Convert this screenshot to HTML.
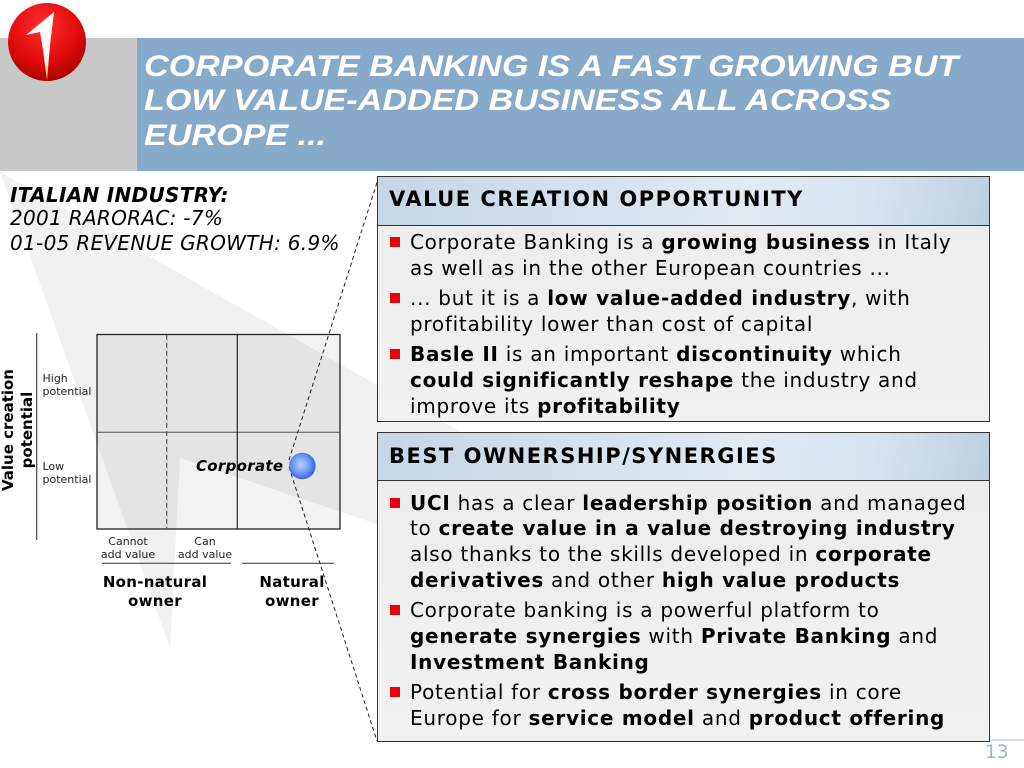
<!DOCTYPE html>
<html>
<head>
<meta charset="utf-8">
<style>
  html,body{margin:0;padding:0;}
  body{width:1024px;height:768px;position:relative;overflow:hidden;background:#fff;font-family:"DejaVu Sans","Liberation Sans",sans-serif;}
  .abs{position:absolute;}
  svg.bg{position:absolute;left:0;top:0;}
  .title{position:absolute;left:144px;top:49.8px;font-family:"Liberation Sans",sans-serif;font-weight:bold;font-style:italic;font-size:30px;line-height:34.4px;color:#fff;white-space:nowrap;transform:scaleX(1.138);transform-origin:0 0;}
  .ital{position:absolute;left:10px;font-style:italic;font-size:20px;line-height:24px;letter-spacing:0.3px;white-space:nowrap;color:#000;}
  .box{position:absolute;left:377px;width:613px;border:1px solid #333;background:linear-gradient(to bottom,#ececec,#f1f1f1);box-sizing:border-box;}
  .hdr{position:absolute;left:0;top:0;right:0;border-bottom:1px solid #333;background:linear-gradient(100deg,#c6d6e5 0%,#d3e0eb 30%,#e2eaf2 60%,#d9e4ee 80%,#bccfe1 100%);}
  .hdr span{position:absolute;left:11px;font-weight:bold;font-size:21px;line-height:21px;letter-spacing:1.5px;white-space:nowrap;color:#000;}
  .ln{position:absolute;left:410px;font-size:20px;line-height:26px;letter-spacing:0.72px;white-space:nowrap;color:#000;}
  .ln b{font-weight:bold;}
  .bul{position:absolute;left:390px;width:10px;height:10px;background:#e8000f;}
  .sm{position:absolute;font-size:11px;line-height:13px;color:#222;white-space:nowrap;}
  .own{position:absolute;font-weight:bold;font-size:15px;line-height:19px;letter-spacing:0.3px;text-align:center;white-space:nowrap;color:#000;}
</style>
</head>
<body>
<svg class="bg" width="1024" height="768" viewBox="0 0 1024 768" xmlns="http://www.w3.org/2000/svg">
  <defs>
    <radialGradient id="logoG" cx="0.45" cy="0.3" r="0.75">
      <stop offset="0" stop-color="#ff3030"/>
      <stop offset="0.6" stop-color="#e00a0a"/>
      <stop offset="1" stop-color="#a00000"/>
    </radialGradient>
    <linearGradient id="oneG" x1="0" y1="0" x2="0" y2="1">
      <stop offset="0" stop-color="#ffffff"/>
      <stop offset="0.7" stop-color="#fff4ee"/>
      <stop offset="1" stop-color="#f0a040"/>
    </linearGradient>
    <radialGradient id="ballG" cx="0.45" cy="0.45" r="0.6">
      <stop offset="0" stop-color="#b8d2ff"/>
      <stop offset="0.55" stop-color="#6e98f5"/>
      <stop offset="1" stop-color="#2a56e0"/>
    </radialGradient>
  </defs>
  <!-- watermark -->
  <polygon points="0,172 985,728 180,458 170,648" fill="#f1f1f1"/>
  <!-- bands -->
  <rect x="0" y="38" width="137" height="133" fill="#c8c8c8"/>
  <rect x="137" y="38" width="887" height="133" fill="#87aaca"/>
  <!-- logo -->
  <circle cx="47" cy="42" r="39" fill="url(#logoG)"/>
  <polygon points="54,12 50,45 47,81 43,50 40,32 26,35" fill="url(#oneG)"/>
  <!-- chart -->
  <rect x="97" y="334.5" width="243" height="194.5" fill="rgba(0,0,0,0.05)" stroke="#222" stroke-width="1.3"/>
  <line x1="97" y1="432.3" x2="340" y2="432.3" stroke="#555" stroke-width="1"/>
  <line x1="166.7" y1="335" x2="166.7" y2="529" stroke="#555" stroke-width="1.2" stroke-dasharray="5,3"/>
  <line x1="237.3" y1="335" x2="237.3" y2="529" stroke="#222" stroke-width="1.2"/>
  <line x1="36.7" y1="333" x2="36.7" y2="540" stroke="#444" stroke-width="1.2"/>
  <line x1="102" y1="563.3" x2="231" y2="563.3" stroke="#333" stroke-width="1"/>
  <line x1="242" y1="563.3" x2="334" y2="563.3" stroke="#333" stroke-width="1"/>
  <!-- dashed connectors -->
  <line x1="379" y1="176" x2="288" y2="463" stroke="#222" stroke-width="1" stroke-dasharray="4,3"/>
  <line x1="289" y1="467" x2="377" y2="741" stroke="#222" stroke-width="1" stroke-dasharray="4,3"/>
  <!-- ball -->
  <circle cx="302.3" cy="466" r="13.3" fill="url(#ballG)"/>
  <!-- page number line -->
  <line x1="977" y1="740" x2="1024" y2="740" stroke="#a9bccc" stroke-width="1"/>
</svg>

<div class="title">CORPORATE BANKING IS A FAST GROWING BUT<br>LOW VALUE-ADDED BUSINESS ALL ACROSS<br>EUROPE ...</div>

<div class="ital" style="top:182.7px;font-weight:bold;">ITALIAN INDUSTRY:</div>
<div class="ital" style="top:206.3px;">2001 RARORAC: -7%</div>
<div class="ital" style="top:230.5px;">01-05 REVENUE GROWTH: 6.9%</div>

<!-- Y axis label -->
<div class="abs" style="left:-52px;top:411px;width:140px;height:38px;transform:rotate(-90deg);text-align:center;font-weight:bold;font-size:15px;line-height:19px;color:#000;white-space:nowrap;">Value creation<br>potential</div>

<div class="sm" style="left:42.5px;top:371.5px;">High<br>potential</div>
<div class="sm" style="left:42.5px;top:459.5px;">Low<br>potential</div>

<div class="sm" style="left:88px;width:80px;text-align:center;top:535px;">Cannot<br>add value</div>
<div class="sm" style="left:165px;width:80px;text-align:center;top:535px;">Can<br>add value</div>

<div class="own" style="left:95px;width:120px;top:572.5px;">Non-natural<br>owner</div>
<div class="own" style="left:232px;width:120px;top:572.5px;">Natural<br>owner</div>

<div class="abs" style="left:196px;top:457px;font-weight:bold;font-style:italic;font-size:15px;line-height:19px;letter-spacing:0.3px;white-space:nowrap;color:#000;">Corporate</div>

<!-- Box 1 -->
<div class="box" style="top:176px;height:246px;">
  <div class="hdr" style="height:48px;"><span style="top:12px;">VALUE CREATION OPPORTUNITY</span></div>
</div>
<div class="bul" style="top:237px;"></div>
<div class="ln" style="top:229px;">Corporate Banking is a <b>growing business</b> in Italy</div>
<div class="ln" style="top:255px;">as well as in the other European countries ...</div>
<div class="bul" style="top:293px;"></div>
<div class="ln" style="top:285px;">... but it is a <b>low value-added industry</b>, with</div>
<div class="ln" style="top:311px;">profitability lower than cost of capital</div>
<div class="bul" style="top:349px;"></div>
<div class="ln" style="top:341px;"><b>Basle II</b> is an important <b>discontinuity</b> which</div>
<div class="ln" style="top:367px;"><b>could significantly reshape</b> the industry and</div>
<div class="ln" style="top:393px;">improve its <b>profitability</b></div>

<!-- Box 2 -->
<div class="box" style="top:432px;height:310px;">
  <div class="hdr" style="height:47px;"><span style="top:12.5px;">BEST OWNERSHIP/SYNERGIES</span></div>
</div>
<div class="bul" style="top:498px;"></div>
<div class="ln" style="top:490px;"><b>UCI</b> has a clear <b>leadership position</b> and managed</div>
<div class="ln" style="top:515px;">to <b>create value in a value destroying industry</b></div>
<div class="ln" style="top:541px;">also thanks to the skills developed in <b>corporate</b></div>
<div class="ln" style="top:567px;"><b>derivatives</b> and other <b>high value products</b></div>
<div class="bul" style="top:605px;"></div>
<div class="ln" style="top:597px;">Corporate banking is a powerful platform to</div>
<div class="ln" style="top:623px;"><b>generate synergies</b> with <b>Private Banking</b> and</div>
<div class="ln" style="top:649px;"><b>Investment Banking</b></div>
<div class="bul" style="top:687px;"></div>
<div class="ln" style="top:679px;">Potential for <b>cross border synergies</b> in core</div>
<div class="ln" style="top:705px;">Europe for <b>service model</b> and <b>product offering</b></div>

<div class="abs" style="left:985px;top:742px;font-size:18.5px;line-height:22px;color:#9fb5c8;white-space:nowrap;">13</div>
</body>
</html>
